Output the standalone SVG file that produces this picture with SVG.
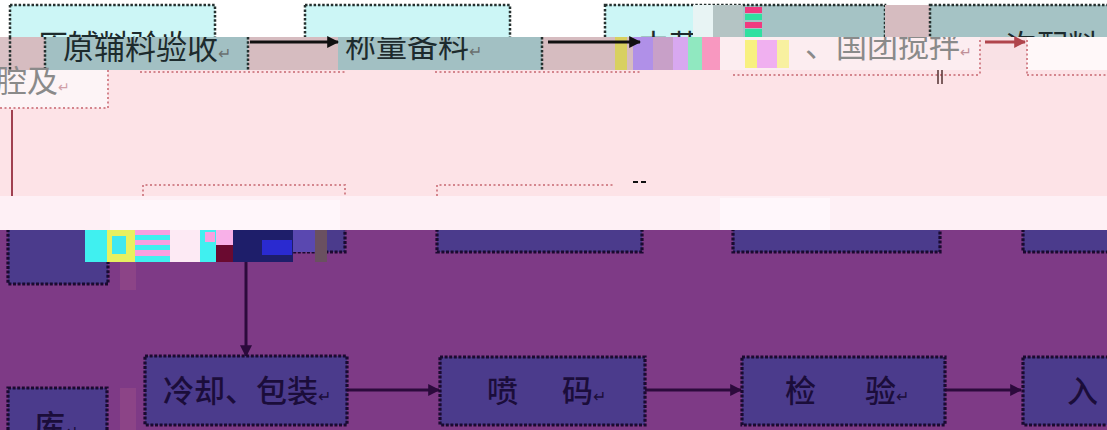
<svg xmlns="http://www.w3.org/2000/svg" width="1107" height="430" viewBox="0 0 1107 430">
<defs>
<style>
.t{font-family:"Noto Sans CJK SC","Liberation Sans",sans-serif;font-size:31px}
.dk{fill:#1d2b2d}
.gr{fill:#8a8a8a}
.pu{fill:#1b0d3a;font-weight:500}
.bt{stroke:#25302f;stroke-width:2.5;stroke-dasharray:2.5 1.8;fill:none}
.bp{stroke:#d4858d;stroke-width:2;stroke-dasharray:2 2.5;fill:none}
.bb{stroke:#1a0a30;stroke-width:3.2;stroke-dasharray:3 1.6;fill:#4b3b8c}
.ln{stroke:#101010;stroke-width:3}
.lr{stroke:#b0454c;stroke-width:3}
.lp{stroke:#2c0a3c;stroke-width:3}
</style>
<clipPath id="c1"><rect x="0" y="0" width="1107" height="37"/></clipPath>
<clipPath id="c2"><rect x="0" y="37" width="1107" height="33"/></clipPath>
<clipPath id="cp"><rect x="0" y="230" width="1107" height="200"/></clipPath>
<marker id="ak" viewBox="0 0 10 10" refX="9" refY="5" markerWidth="4" markerHeight="4" orient="auto"><path d="M0,0L10,5L0,10z" fill="#101010"/></marker>
<marker id="ar" viewBox="0 0 10 10" refX="9" refY="5" markerWidth="4" markerHeight="4" orient="auto"><path d="M0,0L10,5L0,10z" fill="#b0454c"/></marker>
<marker id="ap" viewBox="0 0 10 10" refX="9" refY="5" markerWidth="4" markerHeight="4" orient="auto"><path d="M0,0L10,5L0,10z" fill="#2c0a3c"/></marker>
</defs>

<!-- background bands -->
<rect x="0" y="0" width="1107" height="37" fill="#ffffff"/>
<rect x="0" y="37" width="1107" height="33" fill="#d6bcc0"/>
<rect x="0" y="70" width="1107" height="126" fill="#fde3e7"/>
<rect x="0" y="196" width="1107" height="34" fill="#fef0f5"/>
<rect x="110" y="200" width="230" height="30" fill="#fff6fa"/>
<rect x="720" y="198" width="110" height="32" fill="#fff7fb"/>
<rect x="0" y="230" width="1107" height="200" fill="#7e3a86"/>

<!-- band 1 : top row boxes -->
<g id="top-band" clip-path="url(#c1)">
<rect x="10" y="5" width="205" height="50" fill="#ccf6f6"/>
<rect class="bt" x="10" y="5" width="205" height="50"/>
<rect x="305" y="5" width="205" height="50" fill="#ccf6f6"/>
<rect class="bt" x="305" y="5" width="205" height="50"/>
<rect x="605" y="5" width="108" height="50" fill="#ccf6f6"/>
<rect x="713" y="5" width="172" height="50" fill="#a5c3c5"/>
<rect class="bt" x="605" y="5" width="280" height="50"/>
<rect x="885" y="5" width="45" height="50" fill="#d6bcc0"/>
<rect x="930" y="5" width="177" height="50" fill="#a5c3c5"/>
<rect class="bt" x="930" y="5" width="200" height="50"/>
<text class="t dk" x="37" y="57">原辅料验收</text>
<text class="t dk" x="638" y="57">中药中</text>
<text class="t dk" x="1006" y="57">次配料</text>
<rect x="693" y="5" width="20" height="32" fill="#e8f4f4"/>
<rect x="713" y="5" width="30" height="32" fill="#b4c4c4"/>
<rect x="745" y="7" width="17" height="6" fill="#f03a80"/>
<rect x="745" y="14" width="17" height="6" fill="#30e0a0"/>
<rect x="745" y="22" width="17" height="6" fill="#f03a80"/>
<rect x="745" y="29" width="17" height="8" fill="#30e0a0"/>
</g>

<!-- band 2 -->
<g id="band2" clip-path="url(#c2)">
<rect x="0" y="37" width="10" height="33" fill="#dac2c6"/>
<rect x="45" y="37" width="203" height="33" fill="#a2c0c3"/>
<line class="bt" x1="10" y1="37" x2="10" y2="70"/>
<line class="bt" x1="45" y1="37" x2="45" y2="70"/>
<line class="bt" x1="248" y1="37" x2="248" y2="70"/>
<rect x="338" y="37" width="204" height="33" fill="#a2c0c3"/>
<line class="bt" x1="542" y1="37" x2="542" y2="70"/>
<rect x="615" y="37" width="12" height="33" fill="#d8d060"/>
<rect x="633" y="37" width="20" height="33" fill="#b090e8"/>
<rect x="653" y="37" width="20" height="33" fill="#c8a0c8"/>
<rect x="673" y="37" width="15" height="33" fill="#d8a8f0"/>
<rect x="688" y="37" width="14" height="33" fill="#90e8c0"/>
<rect x="702" y="37" width="18" height="33" fill="#f898c0"/>
<rect x="720" y="37" width="260" height="33" fill="#fcedf0"/>
<rect x="745" y="40" width="12" height="28" fill="#f8f080"/>
<rect x="757" y="40" width="20" height="28" fill="#f0b0f0"/>
<rect x="777" y="40" width="12" height="28" fill="#f8f0a0"/>
<rect x="980" y="37" width="47" height="33" fill="#f9e1e5"/>
<rect x="1027" y="37" width="80" height="33" fill="#fff8f9"/>
<text class="t dk" x="63" y="59">原辅料验收<tspan font-size="16" fill="#6a7070">↵</tspan></text>
<text class="t dk" x="345" y="57">称量备料<tspan font-size="16" fill="#6a7070">↵</tspan></text>
<text class="t gr" x="805" y="57" fill="#7a7a7a">、国团搅拌<tspan font-size="14" fill="#c09098">↵</tspan></text>
</g>
<line class="bp" x1="980" y1="40" x2="980" y2="75"/>
<line class="bp" x1="1027" y1="40" x2="1027" y2="75"/>

<!-- pink region -->
<g id="pink-band">
<rect x="0" y="70" width="108" height="38" fill="#fdf4f6"/>
<path class="bp" d="M0,108H108V70"/>
<text class="t gr" x="-4" y="92" font-size="26">腔及<tspan font-size="14" fill="#d0a0a8">↵</tspan></text>
<line class="bp" x1="140" y1="72" x2="345" y2="72"/>
<line class="bp" x1="435" y1="72" x2="640" y2="72"/>
<line class="bp" x1="733" y1="75" x2="980" y2="75"/>
<line class="bp" x1="1027" y1="75" x2="1107" y2="75"/>
<line x1="938" y1="70" x2="938" y2="84" stroke="#503030" stroke-width="1.5"/>
<line x1="942" y1="70" x2="942" y2="84" stroke="#503030" stroke-width="1.5"/>
<line x1="12" y1="110" x2="12" y2="196" stroke="#a04050" stroke-width="2"/>
<path class="bp" d="M143,196V185H345V196"/>
<path class="bp" d="M437,196V185H613"/>
<line x1="633" y1="182" x2="648" y2="182" stroke="#101010" stroke-width="2" stroke-dasharray="5 3"/>
</g>

<!-- purple region: row 2 box remnants -->
<g id="row2" clip-path="url(#cp)">
<rect class="bb" x="8" y="200" width="100" height="84"/>
<rect class="bb" x="437" y="190" width="205" height="62"/>
<rect class="bb" x="733" y="190" width="207" height="62"/>
<rect class="bb" x="1023" y="190" width="120" height="62"/>
<rect class="bb" x="143" y="190" width="202" height="62"/>
<rect x="85" y="230" width="22" height="32" fill="#40f0f0"/>
<rect x="107" y="230" width="28" height="32" fill="#e8f060"/>
<rect x="112" y="236" width="14" height="18" fill="#40e8f0"/>
<rect x="135" y="230" width="35" height="5" fill="#f8a0e0"/>
<rect x="135" y="235" width="35" height="5" fill="#40f0f0"/>
<rect x="135" y="240" width="35" height="5" fill="#f8a0e0"/>
<rect x="135" y="245" width="35" height="5" fill="#40f0f0"/>
<rect x="135" y="250" width="35" height="6" fill="#f8a0e0"/>
<rect x="135" y="256" width="35" height="6" fill="#40f0f0"/>
<rect x="170" y="230" width="30" height="32" fill="#fdeaf4"/>
<rect x="200" y="230" width="16" height="32" fill="#40f0f0"/>
<rect x="205" y="232" width="10" height="10" fill="#f8a0e0"/>
<rect x="216" y="230" width="17" height="15" fill="#f8b0e8"/>
<rect x="216" y="245" width="17" height="17" fill="#6a0a30"/>
<rect x="233" y="230" width="60" height="32" fill="#1e1e6a"/>
<rect x="262" y="240" width="30" height="15" fill="#2a2ad0"/>
<rect x="293" y="230" width="22" height="22" fill="#5a48b0"/>
<rect x="315" y="230" width="12" height="32" fill="#6a5060"/>
</g>
<rect x="120" y="262" width="16" height="28" fill="#8c4487"/>
<rect x="120" y="388" width="16" height="42" fill="#8c4487"/>

<!-- connectors -->
<g id="connectors">
<line class="ln" x1="250" y1="42" x2="338" y2="42" marker-end="url(#ak)"/>
<line class="ln" x1="548" y1="42" x2="640" y2="42" marker-end="url(#ak)"/>
<line class="lr" x1="985" y1="42" x2="1025" y2="42" marker-end="url(#ar)"/>
<line class="lp" x1="246" y1="262" x2="246" y2="356" marker-end="url(#ap)"/>
<line class="lp" x1="347" y1="390" x2="439" y2="390" marker-end="url(#ap)"/>
<line class="lp" x1="645" y1="390" x2="741" y2="390" marker-end="url(#ap)"/>
<line class="lp" x1="945" y1="390" x2="1021" y2="390" marker-end="url(#ap)"/>
</g>

<!-- row 3 nodes -->
<g id="n-cool">
<rect class="bb" x="145" y="356" width="202" height="69"/>
<text class="t pu" x="163" y="402">冷却、包装<tspan font-size="16">↵</tspan></text>
</g>
<g id="n-code">
<rect class="bb" x="440" y="357" width="205" height="68"/>
<text class="t pu" x="487" y="402">喷<tspan x="562">码</tspan><tspan font-size="16">↵</tspan></text>
</g>
<g id="n-check">
<rect class="bb" x="742" y="357" width="203" height="68"/>
<text class="t pu" x="785" y="402">检<tspan x="865">验</tspan><tspan font-size="16">↵</tspan></text>
</g>
<g id="n-in">
<rect class="bb" x="1023" y="357" width="120" height="68"/>
<text class="t pu" x="1067" y="402">入</text>
</g>
<g id="n-ku">
<rect class="bb" x="8" y="388" width="99" height="60"/>
<text class="t pu" x="34" y="437">库<tspan font-size="16">↵</tspan></text>
</g>
</svg>
